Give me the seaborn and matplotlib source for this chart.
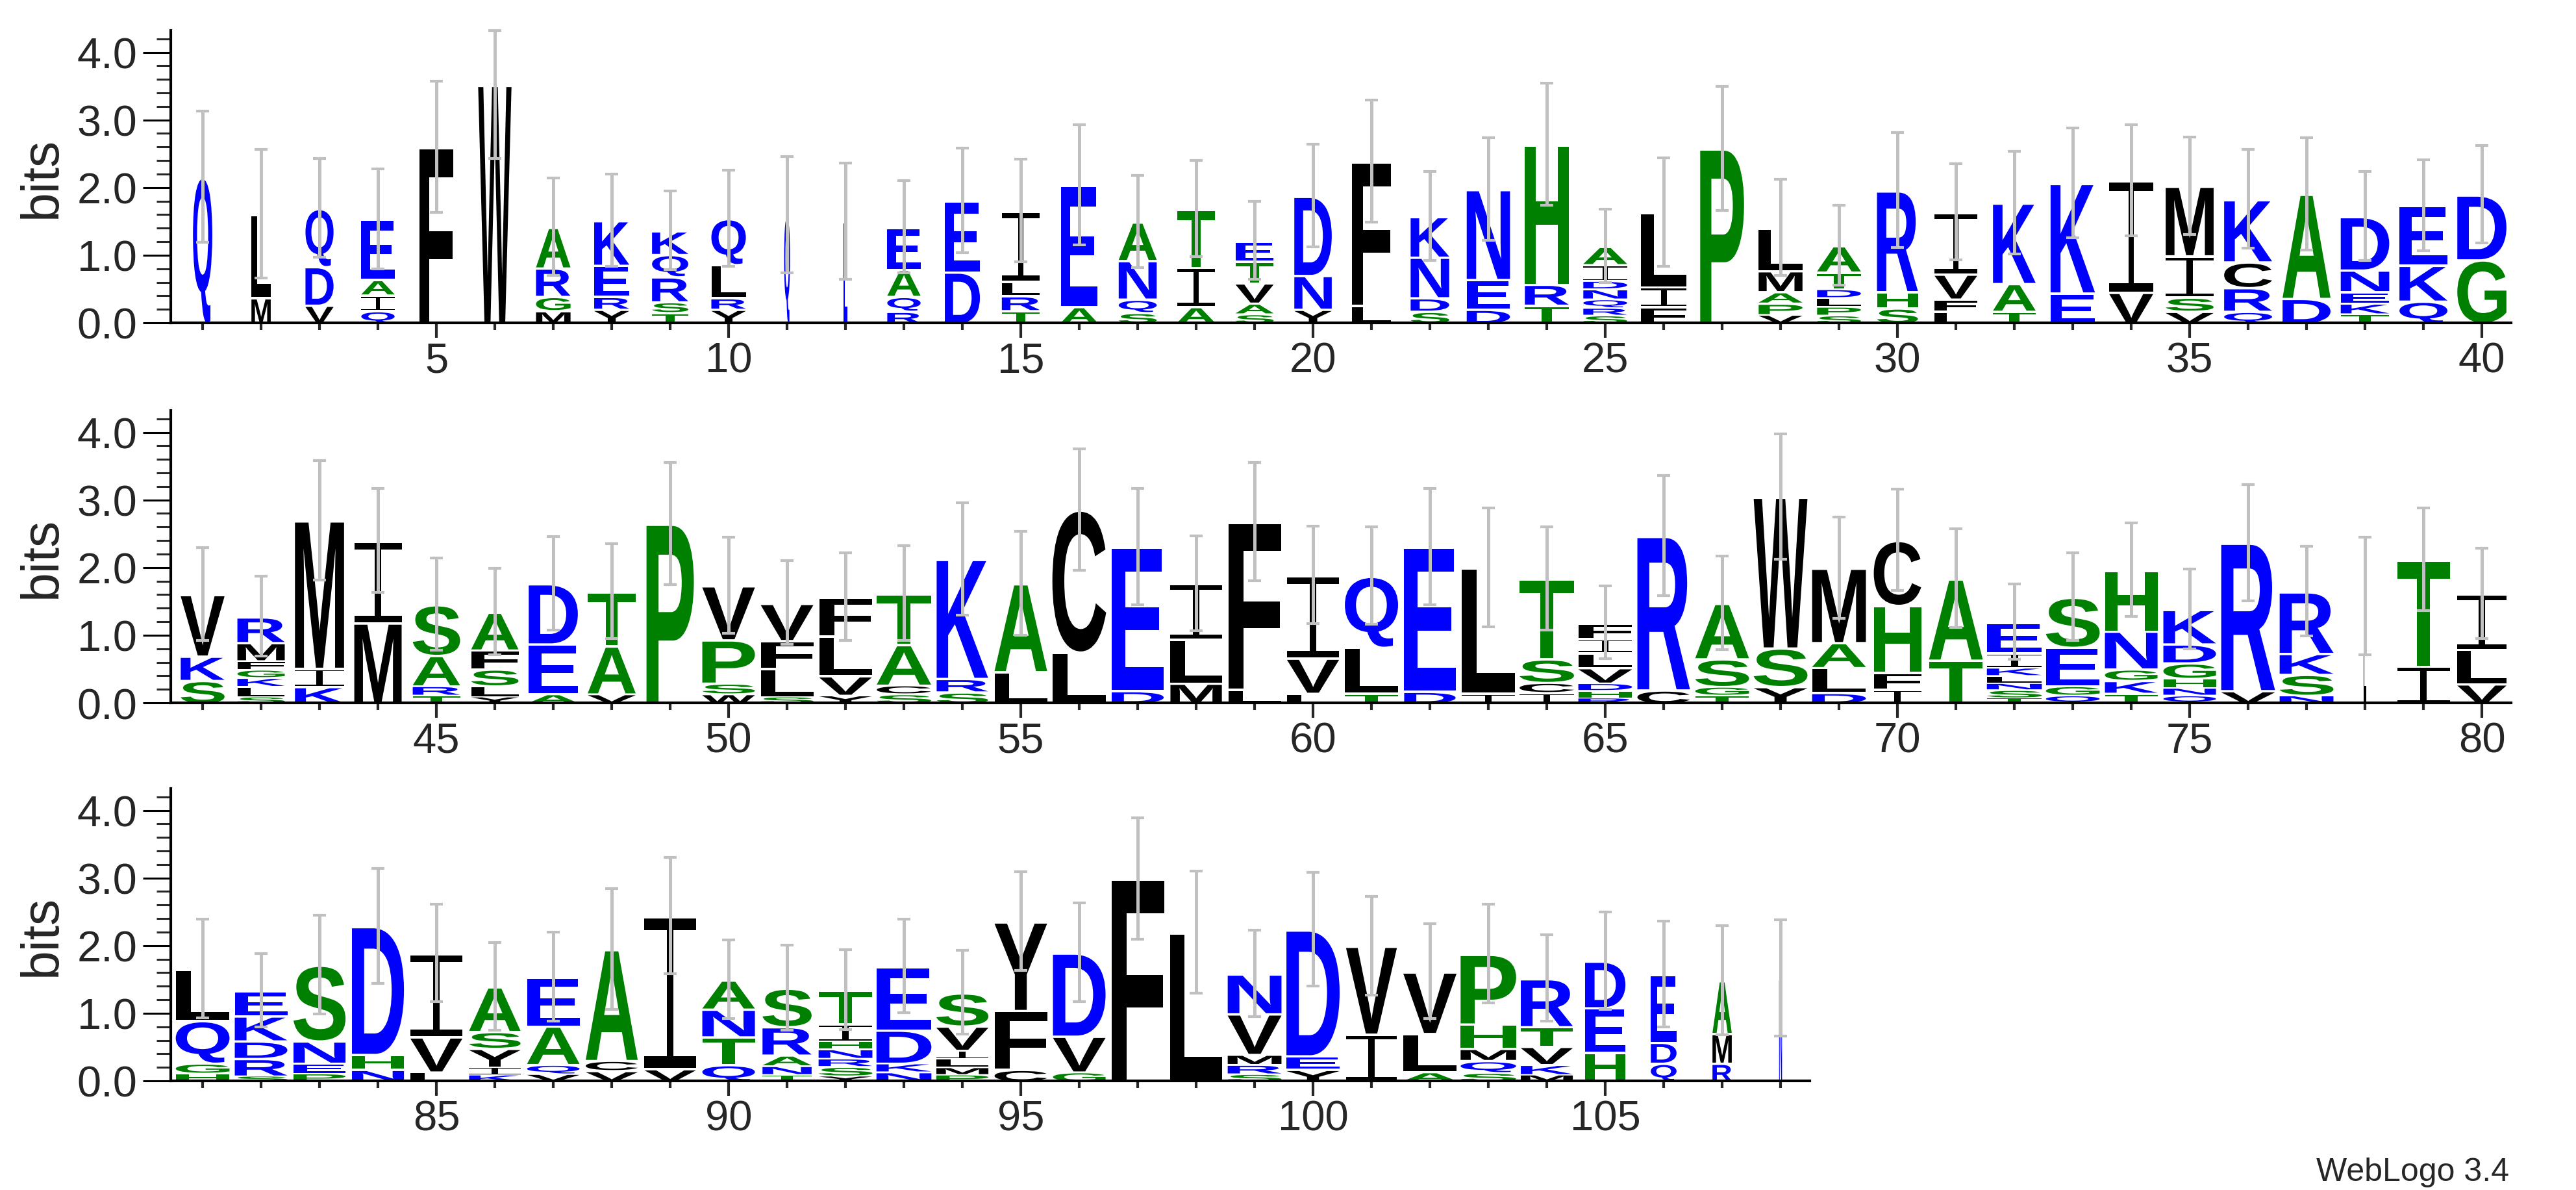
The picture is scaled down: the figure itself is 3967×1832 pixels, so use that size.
import numpy as np
import matplotlib
matplotlib.use("Agg")
import matplotlib.pyplot as plt
import seaborn as sns
from matplotlib.textpath import TextPath
from matplotlib.font_manager import FontProperties
from matplotlib.patches import PathPatch
from matplotlib.path import Path
from matplotlib.transforms import Affine2D
from matplotlib.ticker import MultipleLocator, FormatStrFormatter

# ---- data (letters bottom -> top, heights in bits) ----
letters_1 = ["Q", "ML", "VDQ", "QIAE", "F", "W", "MGRA", "YREK", "TSRQK", "YRLQ",
             "Q", "E", "RQAE", "DE", "TRLI", "AE", "SQNA", "AIT", "SAVTE", "YND",
             "LF", "SDNK", "DEN", "TRH", "SRQNDIA", "FIL", "P", "VPAML", "SPLDTA", "SHR",
             "LFVI", "TAK", "EK", "VI", "VSIM", "QRCK", "DA", "TKEND", "QKE", "GD"]
heights_1 = [[2.16], [0.38, 1.23], [0.27, 0.57, 0.86], [0.19, 0.23, 0.23, 0.89], [2.60],
             [3.52], [0.19, 0.21, 0.42, 0.60], [0.21, 0.19, 0.46, 0.66],
             [0.16, 0.16, 0.37, 0.33, 0.35], [0.21, 0.17, 0.49, 0.68],
             [1.60], [1.50], [0.18, 0.22, 0.40, 0.62], [0.76, 1.05], [0.19, 0.22, 0.21, 1.04],
             [0.25, 1.79], [0.16, 0.20, 0.57, 0.57], [0.25, 0.58, 0.86],
             [0.14, 0.16, 0.30, 0.32, 0.30], [0.21, 0.50, 1.17],
             [0.27, 2.12], [0.18, 0.20, 0.60, 0.60], [0.21, 0.44, 1.33], [0.27, 0.31, 2.06],
             [0.12, 0.11, 0.13, 0.15, 0.12, 0.24, 0.27], [0.25, 0.29, 1.10], [2.58],
             [0.13, 0.17, 0.17, 0.31, 0.63], [0.12, 0.13, 0.13, 0.13, 0.25, 0.39],
             [0.23, 0.24, 1.49],
             [0.18, 0.18, 0.37, 0.91], [0.18, 0.41, 1.19], [0.45, 1.62], [0.46, 1.65],
             [0.18, 0.21, 0.61, 1.03], [0.18, 0.35, 0.38, 0.92], [0.37, 1.54],
             [0.14, 0.16, 0.17, 0.32, 0.79], [0.33, 0.53, 0.88], [0.94, 0.96]]
err_1 = [0.97, 0.95, 0.73, 0.74, 0.97, 1.09, 0.72, 0.68, 0.58, 0.71,
         0.86, 0.86, 0.68, 0.77, 0.76, 0.89, 0.68, 0.71, 0.58, 0.76,
         0.90, 0.66, 0.76, 0.90, 0.54, 0.80, 0.92, 0.71, 0.59, 0.85,
         0.71, 0.76, 0.81, 0.82, 0.72, 0.73, 0.83, 0.66, 0.67, 0.72]
width_1 = [0.33, 0.33, 0.48, 0.57, 0.57, 0.57, 0.59, 0.60, 0.62, 0.59,
           0.10, 0.07, 0.57, 0.60, 0.65, 0.63, 0.65, 0.65, 0.65, 0.64,
           0.67, 0.66, 0.74, 0.75, 0.75, 0.77, 0.75, 0.75, 0.75, 0.70,
           0.73, 0.73, 0.76, 0.75, 0.82, 0.82, 0.82, 0.83, 0.82, 0.84]

letters_2 = ["SKV", "SLKGFMR", "KIM", "MI", "TRAS", "YLSFA", "AED", "VAT", "P", "WSPV",
             "SLFV", "YVLF", "SCAT", "SRK", "LA", "LC", "DE", "MLI", "LF", "LVI",
             "TLQ", "DE", "IL", "ICST", "RHDVLIF", "CR", "TGSA", "YSW", "DLAM", "IFHC",
             "TA", "TSNLKIE", "QGES", "TKGNH", "QNHGDK", "VR", "NSKR", "L", "IT", "VLI"]
heights_2 = [[0.34, 0.36, 0.91], [0.10, 0.15, 0.13, 0.12, 0.13, 0.27, 0.38],
             [0.25, 0.27, 2.18], [1.19, 1.21], [0.12, 0.14, 0.45, 0.75],
             [0.10, 0.16, 0.25, 0.28, 0.56], [0.14, 0.74, 0.89], [0.14, 0.71, 0.80],
             [2.65], [0.14, 0.16, 0.64, 0.80],
             [0.10, 0.42, 0.41, 0.55], [0.12, 0.29, 0.59, 0.57], [0.14, 0.13, 0.60, 0.75],
             [0.17, 0.20, 1.76], [0.47, 1.30], [0.76, 2.10], [0.19, 2.12],
             [0.30, 0.65, 0.82], [0.21, 2.47], [0.15, 0.52, 1.22],
             [0.15, 0.68, 1.05], [0.18, 2.13], [0.15, 1.85], [0.16, 0.15, 0.35, 1.18],
             [0.08, 0.11, 0.11, 0.23, 0.22, 0.21, 0.23], [0.20, 2.27],
             [0.12, 0.13, 0.41, 0.82], [0.25, 0.57, 2.23], [0.16, 0.37, 0.37, 1.10],
             [0.21, 0.25, 0.99, 0.96],
             [0.64, 1.20], [0.08, 0.12, 0.10, 0.11, 0.12, 0.22, 0.45],
             [0.12, 0.14, 0.57, 0.74], [0.15, 0.19, 0.17, 0.56, 0.90],
             [0.12, 0.11, 0.14, 0.23, 0.28, 0.51], [0.19, 2.18], [0.12, 0.31, 0.31, 0.91],
             [1.58], [0.55, 1.57], [0.29, 0.51, 0.82]]
err_2 = [0.69, 0.59, 0.88, 0.77, 0.68, 0.64, 0.69, 0.70, 0.90, 0.71,
         0.62, 0.65, 0.70, 0.83, 0.77, 0.90, 0.86, 0.70, 0.87, 0.72,
         0.72, 0.86, 0.88, 0.76, 0.54, 0.89, 0.69, 0.93, 0.75, 0.75,
         0.73, 0.56, 0.65, 0.69, 0.59, 0.86, 0.66, 0.87, 0.76, 0.67]
width_2 = [0.75, 0.81, 0.84, 0.81, 0.81, 0.81, 0.84, 0.82, 0.81, 0.90,
           0.90, 0.90, 0.93, 0.88, 0.90, 0.92, 0.89, 0.88, 0.90, 0.89,
           0.91, 0.88, 0.91, 0.93, 0.92, 0.90, 0.92, 0.92, 0.92, 0.81,
           0.92, 0.94, 0.92, 0.90, 0.90, 0.92, 0.92, 0.05, 0.90, 0.84]

letters_3 = ["HGQL", "SRDKE", "PENS", "NHD", "LVI", "KIYSA", "VQAE", "VCA", "VI", "QTNA",
             "TNARS", "YSRNHIT", "NKDE", "PMLIVS", "CFY", "GVD", "F", "L", "SRMVN", "YED",
             "IV", "ALV", "SQMHP", "MKVTR", "HED", "QDE", "RMA", "N"]
heights_3 = [[0.12, 0.15, 0.63, 0.76], [0.08, 0.26, 0.26, 0.37, 0.37],
             [0.12, 0.15, 0.33, 1.12], [0.18, 0.22, 1.89], [0.14, 0.52, 1.23],
             [0.10, 0.11, 0.28, 0.25, 0.66], [0.11, 0.14, 0.57, 0.72], [0.16, 0.15, 1.64],
             [0.19, 2.25], [0.25, 0.41, 0.41, 0.43],
             [0.10, 0.13, 0.16, 0.42, 0.57], [0.08, 0.14, 0.12, 0.14, 0.12, 0.25, 0.50],
             [0.14, 0.13, 0.49, 0.94], [0.10, 0.11, 0.13, 0.12, 0.36, 0.49],
             [0.18, 0.87, 1.31], [0.14, 0.53, 1.23], [2.99], [2.20],
             [0.11, 0.14, 0.15, 0.60, 0.59], [0.18, 0.20, 1.86],
             [0.70, 1.30], [0.14, 0.57, 0.91], [0.13, 0.18, 0.18, 0.36, 1.03],
             [0.10, 0.15, 0.27, 0.29, 0.71], [0.43, 0.66, 0.69], [0.27, 0.31, 1.00],
             [0.27, 0.44, 0.78], [1.52]]
err_3 = [0.73, 0.54, 0.73, 0.85, 0.72, 0.65, 0.66, 0.89, 0.86, 0.58,
         0.63, 0.59, 0.69, 0.62, 0.73, 0.73, 0.90, 0.90, 0.64, 0.84,
         0.73, 0.70, 0.73, 0.64, 0.72, 0.78, 0.81, 0.86]
width_3 = [0.92, 0.90, 0.89, 0.89, 0.89, 0.88, 0.90, 0.89, 0.88, 0.90,
           0.84, 0.92, 0.94, 0.89, 0.90, 0.90, 0.90, 0.89, 0.92, 0.91,
           0.87, 0.91, 0.95, 0.89, 0.69, 0.44, 0.33, 0.05]

row_starts = [1, 41, 81]
green_set = "AGSTHP"
blue_set = "QDEKRN"
YMAX = np.log2(20)

sns.set_style("ticks")
plt.rcParams['font.family'] = ['Liberation Sans', 'DejaVu Sans']

bold = FontProperties(family="Liberation Sans", weight="bold")
glyphs = {}


def i_path(bar=0.08, stem=0.065):
    # WebLogo-style "I": thin stem between two full-width bars
    verts = [(0, 0), (1, 0), (1, bar), (0.5 + stem, bar), (0.5 + stem, 1 - bar),
             (1, 1 - bar), (1, 1), (0, 1), (0, 1 - bar), (0.5 - stem, 1 - bar),
             (0.5 - stem, bar), (0, bar), (0, 0)]
    codes = [Path.MOVETO] + [Path.LINETO] * 11 + [Path.CLOSEPOLY]
    return Path(verts, codes)


def letter_color(ch):
    if ch in green_set:
        return "#008000"
    if ch in blue_set:
        return "#0000ff"
    return "#000000"


def draw_letter(ax, ch, x, y0, w, h):
    if ch not in glyphs:
        glyphs[ch] = i_path() if ch == "I" else TextPath((0, 0), ch, size=100, prop=bold)
    p = glyphs[ch]
    ext = p.get_extents()
    t = (Affine2D().translate(-ext.x0, -ext.y0)
         .scale(w / ext.width, h / ext.height)
         .translate(x - w / 2, y0))
    ax.add_patch(PathPatch(t.transform_path(p), facecolor=letter_color(ch),
                           edgecolor="none", lw=0, zorder=2))


W, H = 3967, 1833
fig = plt.figure(figsize=(W / 100, H / 100), dpi=100)

rows = [(letters_1, heights_1, err_1, width_1),
        (letters_2, heights_2, err_2, width_2),
        (letters_3, heights_3, err_3, width_3)]
baselines = [498, 1083, 1665]
unit_px = 90.0
left_px = 263

for (lets, hts, errs, wids), start, base in zip(rows, row_starts, baselines):
    n = len(lets)
    x0 = start - 0.545
    x1 = start + n - 0.5
    ax_w = (x1 - x0) * unit_px
    ax = fig.add_axes([left_px / W, (H - base) / H, ax_w / W, 450 / H])
    pos = np.arange(start, start + n)
    tops = []
    for x, chs, hh, w in zip(pos, lets, hts, wids):
        y0 = 0.0
        for ch, h in zip(chs, hh):
            pad = min(0.035, 0.2 * h)
            draw_letter(ax, ch, x, y0, w, h - pad)
            y0 += h
        tops.append(y0)
    tops = np.array(tops)
    errs = np.array(errs)
    upper = np.minimum(tops + errs, YMAX) - tops
    ax.errorbar(pos, tops, yerr=[errs, upper], fmt="none", ecolor="#c0c0c0",
                elinewidth=3.6, capsize=7.5, capthick=3, zorder=5, clip_on=False)

    ax.set_xlim(x0, x1)
    ax.set_ylim(0, YMAX)
    ax.xaxis.set_major_locator(MultipleLocator(5))
    ax.xaxis.set_minor_locator(MultipleLocator(1))
    ax.yaxis.set_major_locator(MultipleLocator(1))
    ax.yaxis.set_minor_locator(MultipleLocator(0.2))
    ax.yaxis.set_major_formatter(FormatStrFormatter("%.1f"))
    ax.tick_params(axis="y", which="major", length=31, width=2.2, pad=6,
                   labelsize=48, direction="out", color="black")
    ax.tick_params(axis="y", which="minor", length=15.5, width=2.2, direction="out")
    ax.tick_params(axis="x", which="major", length=16.5, width=3, pad=4,
                   labelsize=47, direction="out")
    ax.tick_params(axis="x", which="minor", length=8, width=3, direction="out")
    sns.despine(ax=ax)
    for side in ("left", "bottom"):
        ax.spines[side].set_linewidth(3)
        ax.spines[side].set_color("black")
    ax.set_facecolor("white")
    ax.set_ylabel("bits", fontsize=58)
    ax.yaxis.set_label_coords(-160 / ax_w, 0.5)

fig.text(3864 / W, (H - 1818) / H, "WebLogo 3.4", ha="right", va="baseline", fontsize=36)

fig.savefig("out.png", dpi=100, facecolor="white")
